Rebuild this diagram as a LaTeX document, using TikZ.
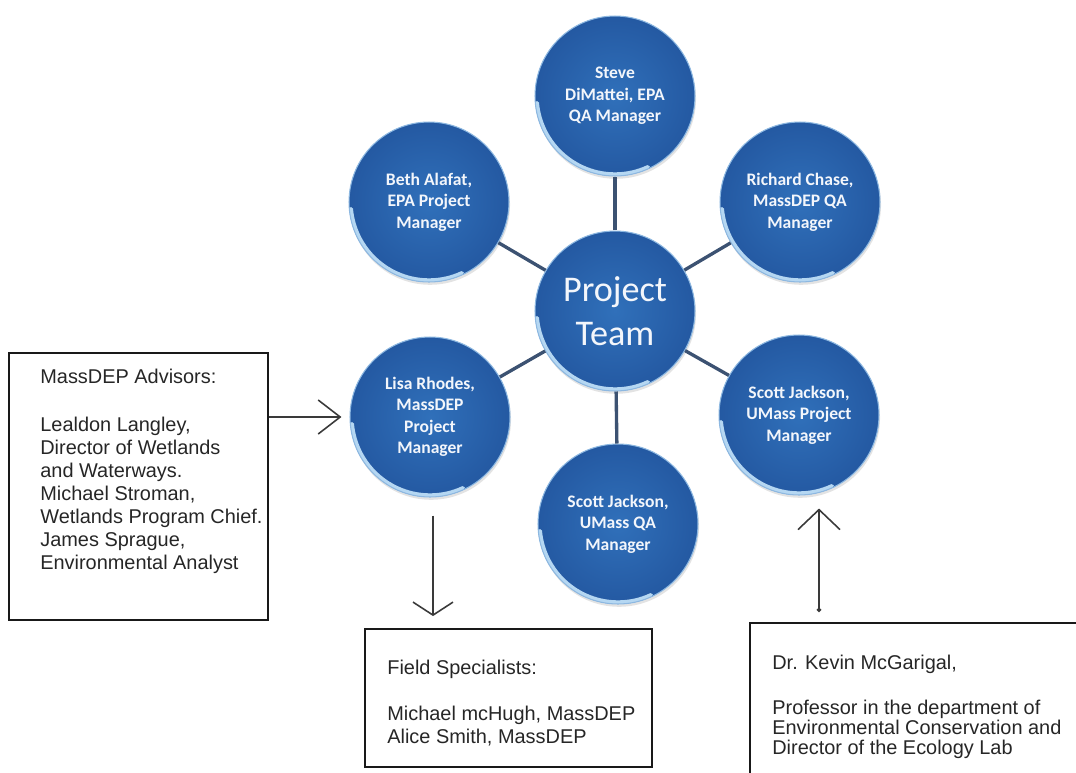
\documentclass[tikz,border=0pt]{standalone}
\usepackage{fontspec}
\setmainfont{Liberation Sans}
\newfontfamily\calibri{Carlito}
\usepackage{tikz}
\usetikzlibrary{arrows.meta, positioning, shadows}
\definecolor{ball}{HTML}{3070BA}
\definecolor{balldark}{HTML}{2459A2}
\definecolor{ballrim}{HTML}{B5D7F2}
\definecolor{spoke}{HTML}{3C5272}
\definecolor{arrowgray}{HTML}{3A3A3A}

\tikzset{
  member/.style={circle, minimum size=3.2cm, inner sep=0pt, align=center,
    text=white!94!ball, font=\calibri\bfseries\fontsize{10}{12.2}\selectfont,
    draw=ballrim!70!ball, line width=0.6pt,
    inner color=ball, outer color=balldark,
    drop shadow={shadow xshift=0.6pt, shadow yshift=-1.6pt, opacity=0.22},
    path picture={
      \draw[ballrim, line width=2.2pt, line cap=round]
        ([shift={(185:1.565cm)}]path picture bounding box.center) arc (185:295:1.565cm);
    }},
  spokeline/.style={spoke, line width=1.9pt},
  infobox/.style={draw=black!90, line width=1.1pt, inner sep=0pt},
  boxtext/.style={anchor=north west, inner sep=0pt, align=left, text=black!85,
    font=\fontsize{11.34}{13.04}\selectfont},
  pointer/.style={draw=arrowgray, line width=0.9pt}
}

\begin{document}
\begin{tikzpicture}[x=0.02cm,y=-0.02cm]
  \useasboundingbox (0,0) rectangle (1076,772);
  \clip (0,0) rectangle (1076,772);

  % team circles
  \node[member] (steve) at (615,96) {Steve\\DiMattei, EPA\\QA Manager};
  \node[member] (beth) at (429,202) {Beth Alafat,\\EPA Project\\Manager};
  \node[member] (richard) at (800,202) {Richard Chase,\\MassDEP QA\\Manager};
  \node[member, font=\calibri\fontsize{20.6}{25.3}\selectfont] (team) at (615,311) {Project\\Team};
  \node[member] (lisa) at (430,417) {Lisa Rhodes,\\MassDEP\\Project\\Manager};
  \node[member] (umasspm) at (799,415) {Scott Jackson,\\UMass Project\\Manager};
  \node[member] (umassqa) at (618,524) {Scott Jackson,\\UMass QA\\Manager};

  \foreach \m in {steve,beth,richard,lisa,umasspm,umassqa}
    \draw[spokeline] (team) -- (\m);

  % outside boxes
  \node[infobox, minimum width=5.18cm, minimum height=5.34cm] (advisors) at (138.5,486.5) {};
  \node[boxtext] (advisorstext) at (40,369) {MassDEP Advisors:\\[14.2pt]
    Lealdon Langley,\\ Director of Wetlands\\ and Waterways.\\ Michael Stroman,\\
    Wetlands Program Chief.\\ James Sprague,\\ Environmental Analyst};

  \node[infobox, minimum width=5.74cm, minimum height=2.76cm] (field) at (508.5,698) {};
  \node[boxtext] (fieldtext) at (387,660) {Field Specialists:\\[13pt]
    Michael mcHugh, MassDEP\\ Alice Smith, MassDEP};

  \node[infobox, minimum width=7cm, minimum height=3.54cm] (ecology) at (925,711.5) {};
  \node[boxtext, font=\fontsize{11.34}{11.34}\selectfont] (ecologytext) at (772,655)
    {Dr. Kevin McGarigal,\\[14.2pt] Professor in the department of\\
    Environmental Conservation and\\ Director of the Ecology Lab};

  % arrows
  \draw[pointer, -{Straight Barb[length=0.44cm, width=0.68cm]}, shorten >=0.16cm]
    (advisors.east |- lisa.west) -- (lisa.west);
  \draw[pointer, -{Straight Barb[length=0.26cm, width=0.8cm]}, shorten <=0.36cm, shorten >=0.24cm]
    ([xshift=0.06cm]lisa.south) -- ([xshift=0.06cm]lisa.south |- field.north);
  \coordinate (ecologytap) at (819,623);
  \draw[pointer, {Circle[length=2.5pt]}-{Straight Barb[length=0.4cm, width=0.84cm]}, shorten <=0.22cm, shorten >=0.26cm]
    (ecologytap) -- (ecologytap |- umasspm.south);
\end{tikzpicture}
\end{document}
